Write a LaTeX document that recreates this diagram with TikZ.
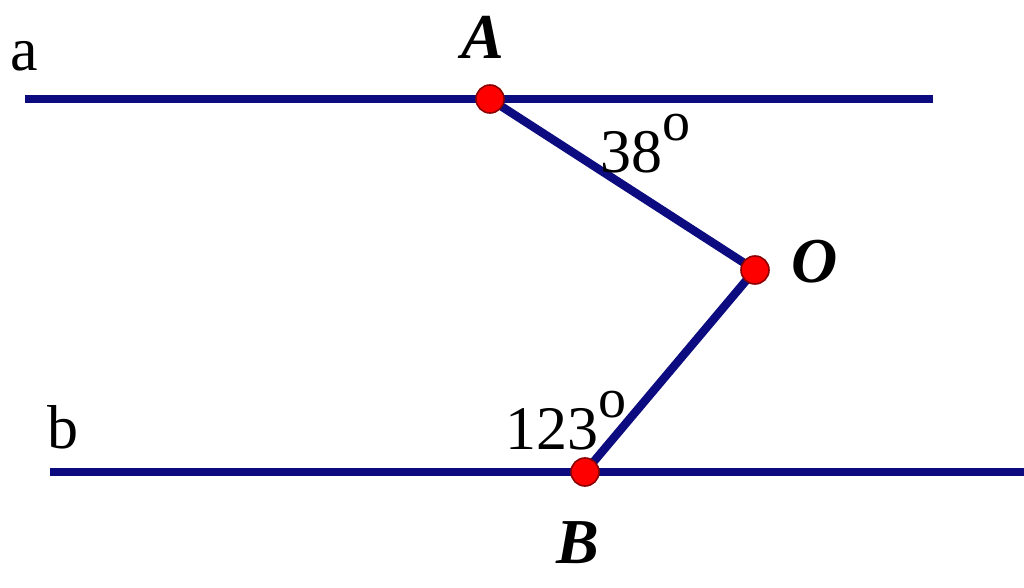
\documentclass[tikz,border=0pt]{standalone}
\usepackage{fontspec}
\setmainfont{Liberation Serif}
\usetikzlibrary{positioning}
\definecolor{linecol}{RGB}{12,12,128}
\definecolor{dotred}{RGB}{255,0,0}
\newcommand{\degsign}{\raisebox{16pt}{\fontsize{28}{30}\selectfont o}}

\begin{document}
\begin{tikzpicture}[x=0.5pt,y=-0.5pt,
    line/.style={draw=linecol,line width=4.2pt},
    dot/.style={circle,fill=dotred,draw=red!55!black,line width=0.8pt,inner sep=0pt,minimum size=14pt},
    pname/.style={font=\fontsize{32}{38}\selectfont\bfseries\itshape,inner sep=0pt},
    lname/.style={font=\fontsize{31}{36}\selectfont,inner sep=0pt}]
    \useasboundingbox (0,0) rectangle (1024,588);
    % the two parallel lines
    \coordinate (a1) at (25,99);
    \coordinate (a2) at (933,99);
    \coordinate (b1) at (50,472);
    \coordinate (b2) at (1024,472);
    \coordinate (A) at (490,99);
    \coordinate (O) at (755,270);
    \coordinate (B) at (585,472);
    \draw[line] (a1) -- (a2);
    \draw[line] (b1) -- (b2);
    \draw[line] (A) -- (O) -- (B);
    % points
    \node[dot] (dA) at (A) {};
    \node[dot] (dO) at (O) {};
    \node[dot] (dB) at (B) {};
    % labels
    \node[lname] (la) at (24,56) {a};
    \node[lname] (lb) at (63,427) {b};
    \node[pname] (nA) at (483,37) {A};
    \node[pname] (nO) at (815,262) {O};
    \node[pname] (nB) at (578,543) {B};
    \node[lname,anchor=base west] (angA) at (600,173) {38\degsign};
    \node[lname,anchor=base west] (angB) at (505,450) {123\degsign};
\end{tikzpicture}
\end{document}
